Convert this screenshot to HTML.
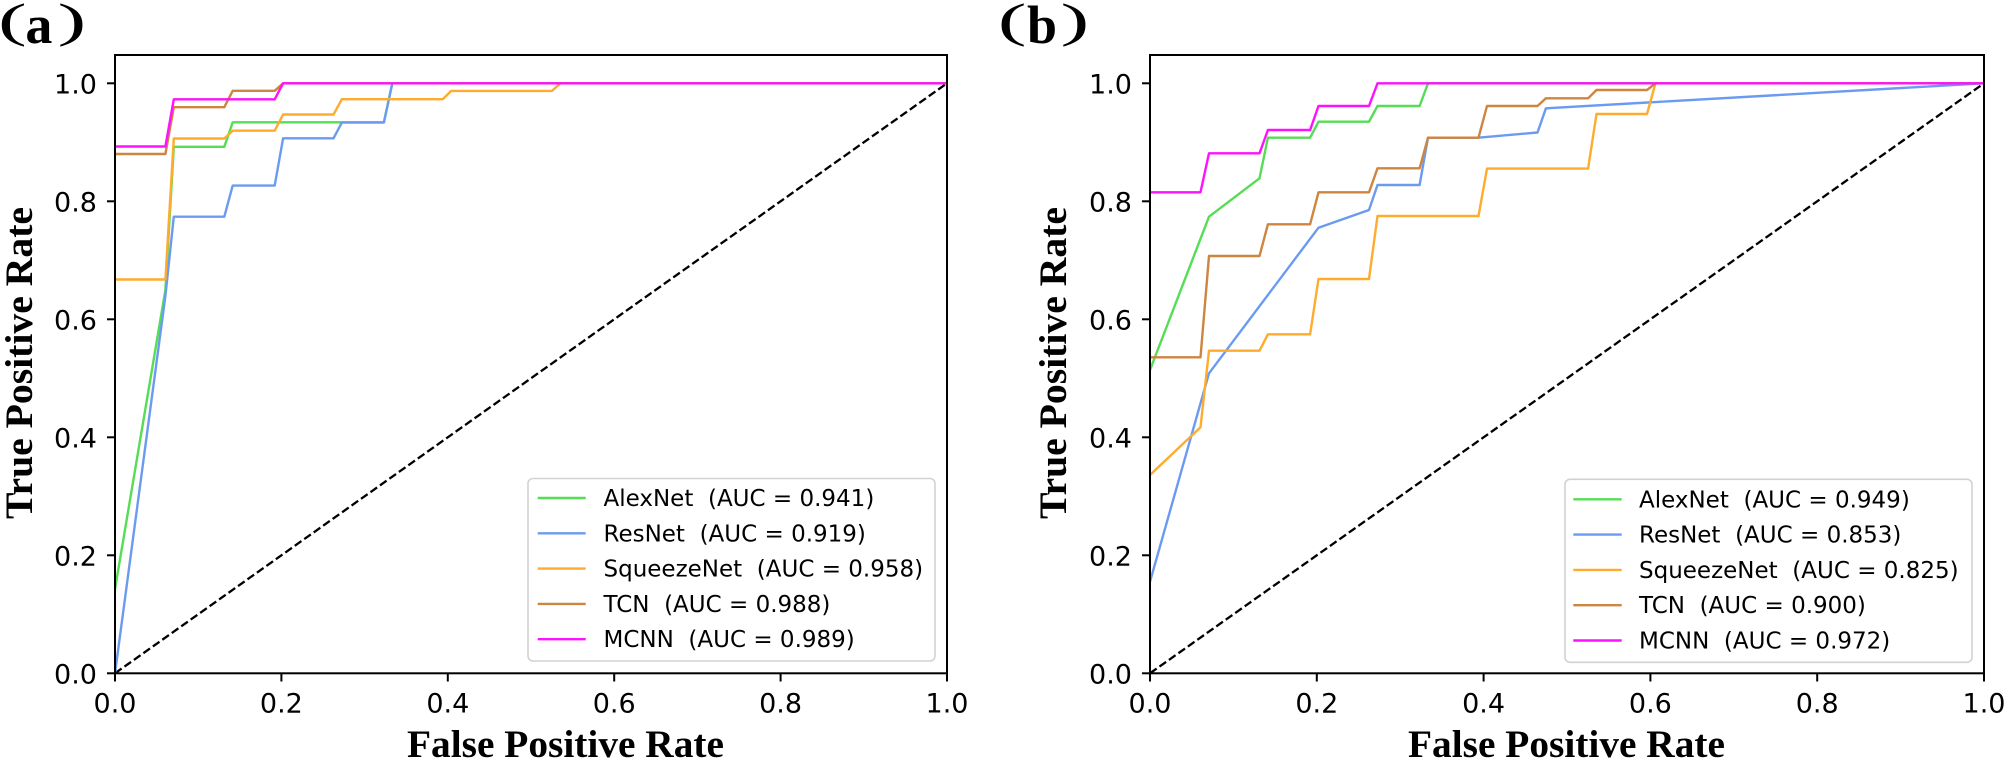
<!DOCTYPE html>
<html>
<head>
<meta charset="utf-8">
<style>
html,body{margin:0;padding:0;background:#fff;}
svg{display:block;}
.tick{font-family:"DejaVu Sans","Liberation Sans",sans-serif;font-size:27px;fill:#000;}
.leg{font-family:"DejaVu Sans","Liberation Sans",sans-serif;font-size:23px;fill:#000;}
.lab{font-family:"Liberation Serif","Times New Roman",serif;font-weight:bold;font-size:39px;fill:#000;}
.pan{font-family:"Liberation Serif","Times New Roman",serif;fill:#000;}
</style>
</head>
<body>
<svg width="2009" height="762" viewBox="0 0 2009 762" xmlns="http://www.w3.org/2000/svg">
<rect x="0" y="0" width="2009" height="762" fill="#fff"/>

<!-- Panel labels -->
<g class="pan">
  <text transform="translate(-2,36.5) scale(1.8,1)" font-size="48">(</text>
  <text x="25.4" y="43" font-size="54" font-weight="bold">a</text>
  <text transform="translate(57.5,36.5) scale(1.8,1)" font-size="48">)</text>

  <text transform="translate(997.7,36.5) scale(1.8,1)" font-size="48">(</text>
  <text x="1027" y="43" font-size="54" font-weight="bold">b</text>
  <text transform="translate(1060.5,36.5) scale(1.8,1)" font-size="48">)</text>
</g>

<!-- ================= PANEL A ================= -->
<g fill="none" stroke-linejoin="round" stroke-linecap="butt">
  <polyline points="115,673.3 947,83.3" stroke="#000" stroke-width="2.3" stroke-dasharray="8.1 3.5"/>
  <polyline points="115,589 165.4,290 173.8,146.8 224.3,146.8 232.7,122.3 383.9,122.3 392.3,83.3 947,83.3" stroke="#55dd55" stroke-width="2.4"/>
  <polyline points="115,673.3 165.4,296 173.8,216.7 224.3,216.7 232.7,185.6 274.7,185.6 283.1,138.3 333.5,138.3 341.9,122.5 383.9,122.5 392.3,83.3 947,83.3" stroke="#6b9bf0" stroke-width="2.4"/>
  <polyline points="115,279.5 165.4,279.5 173.8,138.5 224.3,138.5 232.7,130.7 274.7,130.7 283.1,114.5 333.5,114.5 341.9,99.2 442.8,99.2 451.2,90.9 552,90.9 560.4,83.3 947,83.3" stroke="#ffab2e" stroke-width="2.4"/>
  <polyline points="115,154 165.4,154 173.8,107.2 224.3,107.2 232.7,90.8 274.7,90.8 283.1,83.3 947,83.3" stroke="#cd853f" stroke-width="2.4"/>
  <polyline points="115,146.5 165.4,146.5 173.8,99.3 274.7,99.3 283.1,83.3 947,83.3" stroke="#ff10ff" stroke-width="2.4"/>
</g>
<rect x="115" y="55" width="832" height="618.3" fill="none" stroke="#000" stroke-width="2"/>
<g stroke="#000" stroke-width="2">
  <line x1="107" y1="673.3" x2="115" y2="673.3"/>
  <line x1="107" y1="555.3" x2="115" y2="555.3"/>
  <line x1="107" y1="437.3" x2="115" y2="437.3"/>
  <line x1="107" y1="319.3" x2="115" y2="319.3"/>
  <line x1="107" y1="201.3" x2="115" y2="201.3"/>
  <line x1="107" y1="83.3" x2="115" y2="83.3"/>
  <line x1="115" y1="673.3" x2="115" y2="681.5"/>
  <line x1="281.4" y1="673.3" x2="281.4" y2="681.5"/>
  <line x1="447.8" y1="673.3" x2="447.8" y2="681.5"/>
  <line x1="614.2" y1="673.3" x2="614.2" y2="681.5"/>
  <line x1="780.6" y1="673.3" x2="780.6" y2="681.5"/>
  <line x1="947" y1="673.3" x2="947" y2="681.5"/>
</g>
<g class="tick" text-anchor="end">
  <text x="97" y="683.3">0.0</text>
  <text x="97" y="565.3">0.2</text>
  <text x="97" y="447.3">0.4</text>
  <text x="97" y="329.3">0.6</text>
  <text x="97" y="211.3">0.8</text>
  <text x="97" y="93.3">1.0</text>
</g>
<g class="tick" text-anchor="middle">
  <text x="115" y="712.7">0.0</text>
  <text x="281.4" y="712.7">0.2</text>
  <text x="447.8" y="712.7">0.4</text>
  <text x="614.2" y="712.7">0.6</text>
  <text x="780.6" y="712.7">0.8</text>
  <text x="947" y="712.7">1.0</text>
</g>
<text class="lab" x="407" y="757" textLength="317" lengthAdjust="spacingAndGlyphs">False Positive Rate</text>
<text class="lab" transform="translate(32,363) rotate(-90)" text-anchor="middle" textLength="312" lengthAdjust="spacingAndGlyphs">True Positive Rate</text>

<!-- legend a -->
<rect x="528" y="478.5" width="407" height="182.5" rx="5" ry="5" fill="#fff" fill-opacity="0.85" stroke="#d2d2d2" stroke-width="1.6"/>
<g stroke-width="2.4">
  <line x1="537.7" y1="498" x2="585.7" y2="498" stroke="#55dd55"/>
  <line x1="537.7" y1="533.3" x2="585.7" y2="533.3" stroke="#6b9bf0"/>
  <line x1="537.7" y1="568.6" x2="585.7" y2="568.6" stroke="#ffab2e"/>
  <line x1="537.7" y1="603.9" x2="585.7" y2="603.9" stroke="#cd853f"/>
  <line x1="537.7" y1="639.2" x2="585.7" y2="639.2" stroke="#ff10ff"/>
</g>
<g class="leg">
  <text x="603.5" y="506">AlexNet&#160;&#160;(AUC = 0.941)</text>
  <text x="603.5" y="541.3">ResNet&#160;&#160;(AUC = 0.919)</text>
  <text x="603.5" y="576.6">SqueezeNet&#160;&#160;(AUC = 0.958)</text>
  <text x="603.5" y="611.9">TCN&#160;&#160;(AUC = 0.988)</text>
  <text x="603.5" y="647.2">MCNN&#160;&#160;(AUC = 0.989)</text>
</g>

<!-- ================= PANEL B ================= -->
<g fill="none" stroke-linejoin="round" stroke-linecap="butt">
  <polyline points="1150,673.3 1984,83.3" stroke="#000" stroke-width="2.3" stroke-dasharray="8.1 3.5"/>
  <polyline points="1150,370 1209,216.7 1259.5,178.3 1267.9,137.7 1310.1,137.7 1318.5,121.7 1369,121.7 1377.5,106 1419.6,106 1428,83.3 1984,83.3" stroke="#55dd55" stroke-width="2.4"/>
  <polyline points="1150,581.7 1209,373.3 1318.5,227.7 1369,210 1377.5,185 1419.6,185 1428,137.7 1478.5,137.7 1537.5,132.5 1545.9,108.3 1984,83.3" stroke="#6b9bf0" stroke-width="2.4"/>
  <polyline points="1150,475 1200.5,427.3 1209,350.7 1259.5,350.7 1267.9,334.3 1310.1,334.3 1318.5,279 1369,279 1377.5,216 1478.5,216 1487,168.6 1588.1,168.6 1596.5,114 1647,114 1655.5,83.3 1984,83.3" stroke="#ffab2e" stroke-width="2.4"/>
  <polyline points="1150,357.3 1200.5,357.3 1209,256 1259.5,256 1267.9,224.3 1310.1,224.3 1318.5,192.3 1369,192.3 1377.5,168.3 1419.6,168.3 1428,137.7 1478.5,137.7 1487,106 1537.5,106 1545.9,98.3 1588.1,98.3 1596.5,90 1647,90 1655.5,83.3 1984,83.3" stroke="#cd853f" stroke-width="2.4"/>
  <polyline points="1150,192.3 1200.5,192.3 1209,153.3 1259.5,153.3 1267.9,130 1310.1,130 1318.5,106 1369,106 1377.5,83.3 1984,83.3" stroke="#ff10ff" stroke-width="2.4"/>
</g>
<rect x="1150" y="55" width="834" height="618.3" fill="none" stroke="#000" stroke-width="2"/>
<g stroke="#000" stroke-width="2">
  <line x1="1142" y1="673.3" x2="1150" y2="673.3"/>
  <line x1="1142" y1="555.3" x2="1150" y2="555.3"/>
  <line x1="1142" y1="437.3" x2="1150" y2="437.3"/>
  <line x1="1142" y1="319.3" x2="1150" y2="319.3"/>
  <line x1="1142" y1="201.3" x2="1150" y2="201.3"/>
  <line x1="1142" y1="83.3" x2="1150" y2="83.3"/>
  <line x1="1150" y1="673.3" x2="1150" y2="681.5"/>
  <line x1="1316.8" y1="673.3" x2="1316.8" y2="681.5"/>
  <line x1="1483.6" y1="673.3" x2="1483.6" y2="681.5"/>
  <line x1="1650.4" y1="673.3" x2="1650.4" y2="681.5"/>
  <line x1="1817.2" y1="673.3" x2="1817.2" y2="681.5"/>
  <line x1="1984" y1="673.3" x2="1984" y2="681.5"/>
</g>
<g class="tick" text-anchor="end">
  <text x="1132" y="683.3">0.0</text>
  <text x="1132" y="565.3">0.2</text>
  <text x="1132" y="447.3">0.4</text>
  <text x="1132" y="329.3">0.6</text>
  <text x="1132" y="211.3">0.8</text>
  <text x="1132" y="93.3">1.0</text>
</g>
<g class="tick" text-anchor="middle">
  <text x="1150" y="712.7">0.0</text>
  <text x="1316.8" y="712.7">0.2</text>
  <text x="1483.6" y="712.7">0.4</text>
  <text x="1650.4" y="712.7">0.6</text>
  <text x="1817.2" y="712.7">0.8</text>
  <text x="1984" y="712.7">1.0</text>
</g>
<text class="lab" x="1408" y="757" textLength="317" lengthAdjust="spacingAndGlyphs">False Positive Rate</text>
<text class="lab" transform="translate(1066,363) rotate(-90)" text-anchor="middle" textLength="312" lengthAdjust="spacingAndGlyphs">True Positive Rate</text>

<!-- legend b -->
<rect x="1565" y="479.3" width="407" height="183" rx="5" ry="5" fill="#fff" fill-opacity="0.85" stroke="#d2d2d2" stroke-width="1.6"/>
<g stroke-width="2.4">
  <line x1="1573.3" y1="499.3" x2="1621.7" y2="499.3" stroke="#55dd55"/>
  <line x1="1573.3" y1="534.6" x2="1621.7" y2="534.6" stroke="#6b9bf0"/>
  <line x1="1573.3" y1="569.9" x2="1621.7" y2="569.9" stroke="#ffab2e"/>
  <line x1="1573.3" y1="605.2" x2="1621.7" y2="605.2" stroke="#cd853f"/>
  <line x1="1573.3" y1="640.5" x2="1621.7" y2="640.5" stroke="#ff10ff"/>
</g>
<g class="leg">
  <text x="1639" y="507.3">AlexNet&#160;&#160;(AUC = 0.949)</text>
  <text x="1639" y="542.6">ResNet&#160;&#160;(AUC = 0.853)</text>
  <text x="1639" y="577.9">SqueezeNet&#160;&#160;(AUC = 0.825)</text>
  <text x="1639" y="613.2">TCN&#160;&#160;(AUC = 0.900)</text>
  <text x="1639" y="648.5">MCNN&#160;&#160;(AUC = 0.972)</text>
</g>
</svg>
</body>
</html>
